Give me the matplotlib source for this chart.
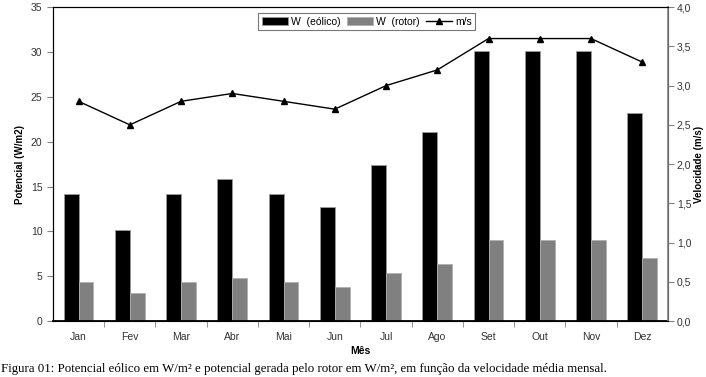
import numpy as np
import matplotlib
matplotlib.use("Agg")
import matplotlib.pyplot as plt
from matplotlib.ticker import FixedLocator, FuncFormatter


#chart data
meses = ["Jan", "Fev", "Mar", "Abr", "Mai", "Jun", "Jul", "Ago", "Set", "Out", "Nov", "Dez"]
w_eolico = [14.2, 10.1, 14.2, 15.8, 14.2, 12.7, 17.4, 21.1, 30.1, 30.1, 30.1, 23.2]
w_rotor = [4.3, 3.1, 4.3, 4.8, 4.3, 3.8, 5.3, 6.4, 9.0, 9.0, 9.0, 7.0]
velocidade = [2.8, 2.5, 2.8, 2.9, 2.8, 2.7, 3.0, 3.2, 3.6, 3.6, 3.6, 3.3]

plt.rcParams["font.family"] = ["Liberation Sans", "DejaVu Sans"]

fig = plt.figure(figsize=(7.06, 3.77), dpi=100)
ax = fig.add_axes([0.075, 0.1485, 0.871, 0.8325])
ax2 = ax.twinx()

x = np.arange(len(meses))
bw = 0.29
ax.bar(x - bw / 2, w_eolico, bw, color="black", edgecolor="#9a9a9a", linewidth=0.6,
       label="W  (eólico)", zorder=2)
ax.bar(x + bw / 2, w_rotor, bw, color="#808080", edgecolor="#b0b0b0", linewidth=0.6,
       label="W  (rotor)", zorder=2)
ax2.plot(x, velocidade, color="black", marker="^", markersize=5, linewidth=1,
         label="m/s")

ax.set_xlim(-0.5, len(meses) - 0.5)
ax.set_ylim(0, 35)
ax2.set_ylim(0, 4.0)
ax.set_yticks(np.arange(0, 36, 5))
ax2.set_yticks(np.arange(0, 4.01, 0.5))
ax2.yaxis.set_major_formatter(FuncFormatter(lambda v, p: f"{v:.1f}".replace(".", ",")))

# month labels centered, tick marks between categories
ax.set_xticks(x)
ax.set_xticklabels(meses)
ax.tick_params(axis="x", which="major", length=0, pad=8, labelsize=7.5)
ax.xaxis.set_minor_locator(FixedLocator(np.arange(0.5, len(meses) - 0.5, 1)))
ax.tick_params(axis="x", which="minor", length=4, color="#808080", direction="out")
ax.tick_params(axis="y", length=4, color="#808080", labelsize=7.5, labelcolor="#333333")
ax2.tick_params(axis="y", length=4, color="#808080", labelsize=7.5, labelcolor="#333333",
                pad=2.5)
for lab in ax.get_xticklabels():
    lab.set_color("#333333")

for s in ["top", "left"]:
    ax.spines[s].set_color("#222222")
ax.spines["bottom"].set_linewidth(1.3)
ax2.spines["right"].set_color("#808080")
ax2.spines["right"].set_linewidth(1.2)

ax.set_ylabel("Potencial (W/m2)", fontsize=7, fontweight="bold", labelpad=4)
ax2.set_ylabel("Velocidade (m/s)", fontsize=7, fontweight="bold", labelpad=2)
ax.set_xlabel("Mês", fontsize=7.5, fontweight="bold", labelpad=3)

h1, l1 = ax.get_legend_handles_labels()
h2, l2 = ax2.get_legend_handles_labels()
leg = ax2.legend(h1 + h2, l1 + l2, loc="upper center", bbox_to_anchor=(0.51, 0.98),
                 ncol=3, fontsize=7.5, frameon=True, fancybox=False, edgecolor="#555555",
                 handlelength=2.5, handleheight=0.8, columnspacing=0.6,
                 handletextpad=0.3, borderpad=0.3, borderaxespad=0)
leg.get_frame().set_linewidth(0.8)

fig.text(0.001, 0.004,
         "Figura 01: Potencial eólico em W/m² e potencial gerada pelo rotor em W/m², "
         "em função da velocidade média mensal.",
         fontsize=9.3, family=["Liberation Serif", "DejaVu Serif"], ha="left", va="bottom")

fig.savefig("out.png", dpi=100)
